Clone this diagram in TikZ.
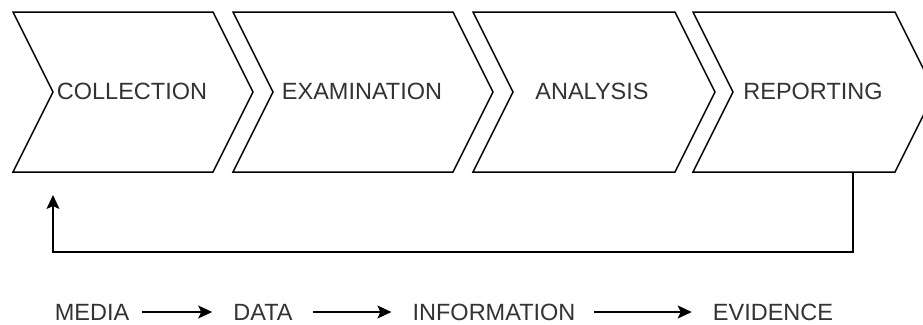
\documentclass[tikz,border=0pt]{standalone}
\usepackage{fontspec}
\setmainfont{Liberation Sans}
\usetikzlibrary{arrows.meta}
\definecolor{txt}{HTML}{333333}
\begin{document}
\begin{tikzpicture}[x=1pt,y=-1pt,
  chev/.style={draw=black, line width=1.5pt, line join=miter, fill=white},
  lbl/.style={font=\fontsize{23.5}{28}\selectfont, text=txt, inner sep=0pt},
  flow/.style={draw=black, line width=1.5pt, -{Stealth[length=14pt,width=13pt,inset=3pt]}}]
\useasboundingbox (0,0) rectangle (923,324);
% chevrons
\draw[chev] (13,12) -- (213,12) -- (253,92) -- (213,172) -- (13,172) -- (53,92) -- cycle;
\draw[chev] (233,12) -- (453,12) -- (493,92) -- (453,172) -- (233,172) -- (273,92) -- cycle;
\draw[chev] (473,12) -- (675,12) -- (715,92) -- (675,172) -- (473,172) -- (513,92) -- cycle;
\draw[chev] (693,12) -- (895,12) -- (935,92) -- (895,172) -- (693,172) -- (733,92) -- cycle;
% labels
\node[lbl] (col) at (132,91) {COLLECTION};
\node[lbl] (exa) at (362,91) {EXAMINATION};
\node[lbl] (ana) at (592,91) {ANALYSIS};
\node[lbl] (rep) at (813,91) {REPORTING};
% feedback connector
\coordinate (fbstart) at (853,172);
\coordinate (fbend) at (53,195);
\draw[flow] (fbstart) -- ++(0,80) -| (fbend);
% bottom row
\node[lbl] (media) at (92,312) {MEDIA};
\node[lbl] (data) at (263,312) {DATA};
\node[lbl] (info) at (494,312) {INFORMATION};
\node[lbl] (evid) at (773,312) {EVIDENCE};
\draw[flow, shorten <=13pt, shorten >=21pt] (media) -- (data);
\draw[flow, shorten <=20pt, shorten >=21pt] (data) -- (info);
\draw[flow, shorten <=18pt, shorten >=21pt] (info) -- (evid);
\end{tikzpicture}
\end{document}
